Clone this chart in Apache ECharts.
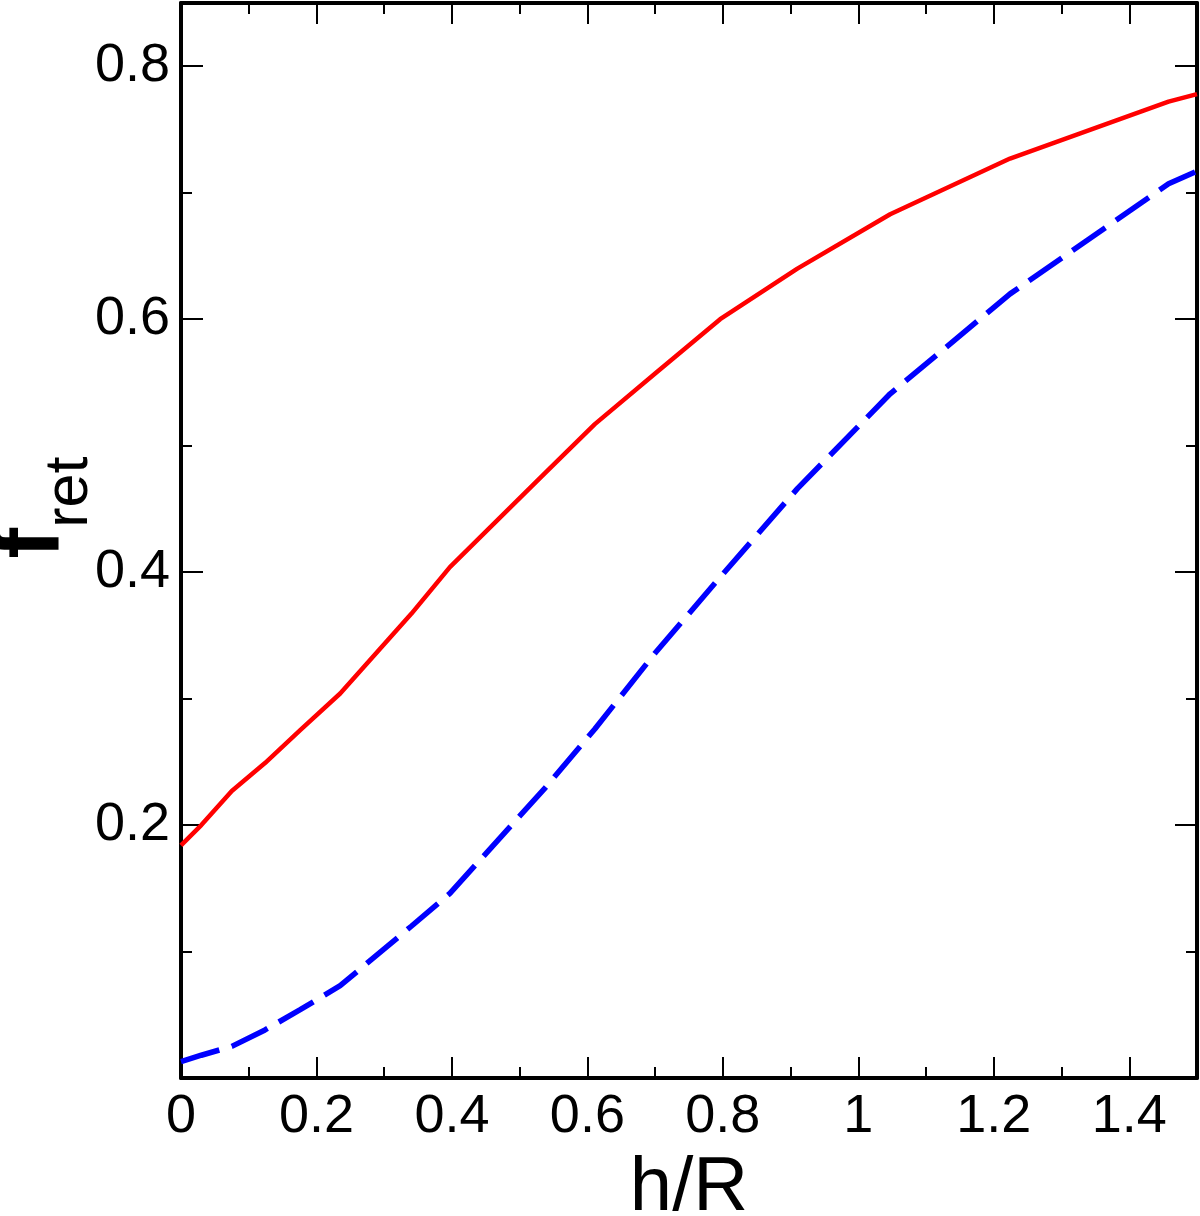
<!DOCTYPE html>
<html>
<head>
<meta charset="utf-8">
<script src="https://cdn.jsdelivr.net/npm/echarts@6/dist/echarts.min.js"></script>
<style>
html,body{margin:0;padding:0;background:#fff;}
#chart{width:1200px;height:1216px;}
</style>
</head>
<body>
<div id="chart"></div>
<script>
// h/R sample positions
const hR = [0, 0.03, 0.075, 0.124, 0.176, 0.235, 0.34, 0.397, 0.537, 0.611, 0.7, 0.796, 0.91, 1.047, 1.224, 1.458, 1.5];
// solid red curve
const redVals = [0.184, 0.200, 0.227, 0.249, 0.275, 0.304, 0.367, 0.404, 0.478, 0.517, 0.557, 0.600, 0.640, 0.683, 0.727, 0.772, 0.778];
// dashed blue curve
const blueVals = [0.013, 0.018, 0.025, 0.038, 0.054, 0.073, 0.120, 0.146, 0.229, 0.276, 0.336, 0.396, 0.466, 0.541, 0.620, 0.707, 0.717];
// tick values
const xMajor = [0, 0.2, 0.4, 0.6, 0.8, 1, 1.2, 1.4];
const xMinor = [0.1, 0.3, 0.5, 0.7, 0.9, 1.1, 1.3];
const yMajor = [0.2, 0.4, 0.6, 0.8];
const yMinor = [0.1, 0.3, 0.5, 0.7];

const FONT = '"Liberation Sans", Arial, sans-serif';
const lineStyleAxis = {color: '#000', width: 4};

function xAx(pos, major, showLine, showLabel, extra) {
  return Object.assign({
    type: 'value', position: pos, min: 0, max: 1.5,
    axisLine: {show: showLine, onZero: false, lineStyle: lineStyleAxis},
    axisTick: {show: true, inside: true, length: major ? 21 : 11, customValues: major ? xMajor : xMinor, lineStyle: {color: '#000', width: 2}},
    axisLabel: {show: showLabel, customValues: xMajor, margin: 12, fontSize: 54, color: '#000', fontFamily: FONT},
    splitLine: {show: false}
  }, extra || {});
}
function yAx(pos, major, showLine, showLabel, extra) {
  return Object.assign({
    type: 'value', position: pos, min: 0, max: 0.85,
    axisLine: {show: showLine, onZero: false, lineStyle: lineStyleAxis},
    axisTick: {show: true, inside: true, length: major ? 22 : 11, customValues: major ? yMajor : yMinor, lineStyle: {color: '#000', width: 2}},
    axisLabel: {show: showLabel, customValues: yMajor, margin: 11, fontSize: 54, color: '#000', fontFamily: FONT},
    splitLine: {show: false}
  }, extra || {});
}

const chart = echarts.init(document.getElementById('chart'), null, {renderer: 'canvas'});
chart.setOption({
  backgroundColor: '#fff',
  animation: false,
  grid: {left: 181, right: 3, top: 3, bottom: 138, containLabel: false, outerBoundsMode: 'none'},
  xAxis: [
    xAx('bottom', true, true, true, {
      name: 'h/R', nameLocation: 'middle', nameGap: 73, nameMoveOverlap: false,
      nameTextStyle: {fontSize: 76, color: '#000', fontFamily: FONT}
    }),
    xAx('bottom', false, false, false),
    xAx('top', true, true, false),
    xAx('top', false, false, false)
  ],
  yAxis: [
    yAx('left', true, true, true, {
      name: '{f|f}{s|ret}', nameLocation: 'middle', nameGap: 80, nameRotate: 90, nameMoveOverlap: false,
      nameTextStyle: {
        color: '#000', fontFamily: FONT,
        rich: {
          f: {fontSize: 92, fontWeight: 'bold', fontFamily: FONT, color: '#000', lineHeight: 92, verticalAlign: 'top', padding: [0, 0, 0, 66]},
          s: {fontSize: 61, fontFamily: FONT, color: '#000', lineHeight: 114, verticalAlign: 'bottom'}
        }
      }
    }),
    yAx('left', false, false, false),
    yAx('right', true, true, false),
    yAx('right', false, false, false)
  ],
  series: [
    {
      type: 'line', xAxisIndex: 0, yAxisIndex: 0, showSymbol: false, symbol: 'none',
      data: hR.map((x, i) => [x, redVals[i]]),
      lineStyle: {color: '#ff0000', width: 4.5}
    },
    {
      type: 'line', xAxisIndex: 0, yAxisIndex: 0, showSymbol: false, symbol: 'none',
      data: hR.map((x, i) => [x, blueVals[i]]),
      lineStyle: {color: '#0000ff', width: 5.5, type: [40, 13]}
    }
  ]
});
</script>
</body>
</html>
